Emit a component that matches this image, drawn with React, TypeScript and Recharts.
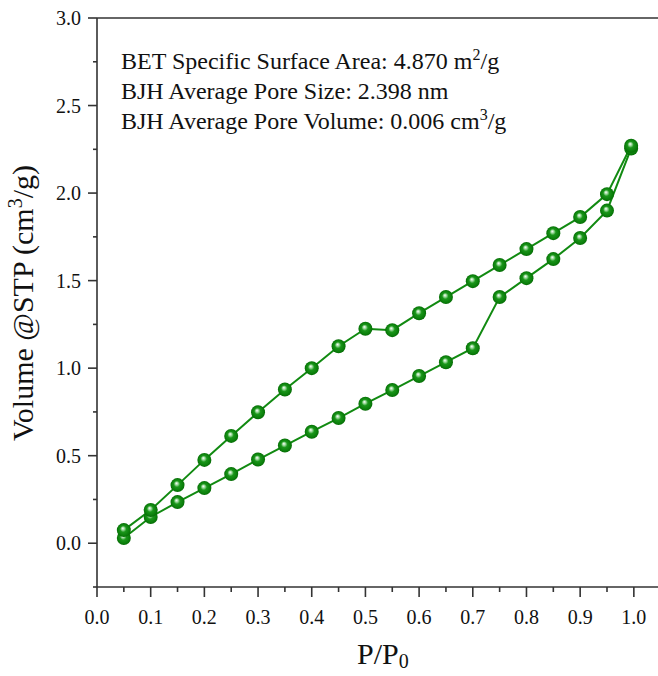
import React from "react";
import { LineChart, Line, XAxis, YAxis, ReferenceLine } from "recharts";

const pAds = [0.05, 0.1, 0.15, 0.2, 0.25, 0.3, 0.35, 0.4, 0.45, 0.5, 0.55, 0.6, 0.65, 0.7, 0.75, 0.8, 0.85, 0.9, 0.95, 0.995];
const vAds = [0.03, 0.15, 0.235, 0.315, 0.395, 0.478, 0.558, 0.637, 0.715, 0.797, 0.875, 0.955, 1.034, 1.114, 1.406, 1.514, 1.623, 1.743, 1.9, 2.255];
const pDes = [0.995, 0.95, 0.9, 0.85, 0.8, 0.75, 0.7, 0.65, 0.6, 0.55, 0.5, 0.45, 0.4, 0.35, 0.3, 0.25, 0.2, 0.15, 0.1, 0.05];
const vDes = [2.27, 1.994, 1.863, 1.771, 1.68, 1.589, 1.497, 1.406, 1.314, 1.217, 1.225, 1.125, 1.0, 0.878, 0.748, 0.613, 0.476, 0.332, 0.19, 0.075];

const xMajor = [0, 0.1, 0.2, 0.3, 0.4, 0.5, 0.6, 0.7, 0.8, 0.9, 1.0];
const xMajorLabels = ["0.0", "0.1", "0.2", "0.3", "0.4", "0.5", "0.6", "0.7", "0.8", "0.9", "1.0"];
const xMinor = [0.05, 0.15, 0.25, 0.35, 0.45, 0.55, 0.65, 0.75, 0.85, 0.95];
const yMajor = [0, 0.5, 1.0, 1.5, 2.0, 2.5, 3.0];
const yMajorLabels = ["0.0", "0.5", "1.0", "1.5", "2.0", "2.5", "3.0"];
const yMinor = [-0.25, 0.25, 0.75, 1.25, 1.75, 2.25, 2.75];

const adsData = pAds.map((p, i) => ({ p, v: vAds[i] }));
const desData = pDes.map((p, i) => ({ p, v: vDes[i] }));
const xTicks = [...xMajor, ...xMinor].sort((a, b) => a - b);
const yTicks = [...yMajor, ...yMinor].sort((a, b) => a - b);

const FONT = "'Liberation Serif', 'Times New Roman', serif";
const AXIS = "#333";
const GREEN = "#118a11";

const majorIndex = (arr: number[], v: number) => arr.findIndex((m) => Math.abs(m - v) < 1e-6);

const XTick = (props: any) => {
  const { x, y, payload } = props;
  const mi = majorIndex(xMajor, payload.value);
  const len = mi >= 0 ? 10 : 5;
  return (
    <g>
      <line x1={x} y1={y} x2={x} y2={y + len} stroke={AXIS} strokeWidth={1.6} />
      {mi >= 0 && (
        <text x={x} y={y + 37} textAnchor="middle" fontFamily={FONT} fontSize={20} fill="#111">
          {xMajorLabels[mi]}
        </text>
      )}
    </g>
  );
};

const YTick = (props: any) => {
  const { x, y, payload } = props;
  const mi = majorIndex(yMajor, payload.value);
  const len = mi >= 0 ? 9 : 4;
  return (
    <g>
      <line x1={x - len} y1={y} x2={x} y2={y} stroke={AXIS} strokeWidth={1.6} />
      {mi >= 0 && (
        <text x={x - 16} y={y + 7} textAnchor="end" fontFamily={FONT} fontSize={20} fill="#111">
          {yMajorLabels[mi]}
        </text>
      )}
    </g>
  );
};

const Ball = (props: any) => {
  const { cx, cy, index } = props;
  if (cx == null || cy == null) return null;
  return <circle key={index} cx={cx} cy={cy} r={7} fill="url(#ballGrad)" stroke="none" />;
};

export default function App() {
  return (
    <div style={{ position: "absolute", left: 0, top: 0, width: 658, height: 676, background: "#fff" }}>
      <LineChart width={658} height={676} margin={{ top: 18, right: 0, bottom: 0, left: 0 }}>
        <defs>
          <radialGradient id="ballGrad" cx="0.5" cy="0.5" r="0.5" fx="0.42" fy="0.36">
            <stop offset="0%" stopColor="#ffffff" />
            <stop offset="22%" stopColor="#9ad89a" />
            <stop offset="45%" stopColor="#1a961a" />
            <stop offset="85%" stopColor="#0a7d0a" />
            <stop offset="100%" stopColor="#066a06" />
          </radialGradient>
        </defs>
        <XAxis
          type="number"
          dataKey="p"
          domain={[0, 1.045]}
          ticks={xTicks}
          allowDataOverflow
          height={89}
          tickSize={0}
          tickMargin={0}
          tickLine={false}
          axisLine={{ stroke: AXIS, strokeWidth: 1.6 }}
          tick={<XTick />}
          interval={0}
        />
        <YAxis
          type="number"
          dataKey="v"
          domain={[-0.25, 3]}
          ticks={yTicks}
          allowDataOverflow
          width={97}
          tickSize={0}
          tickMargin={0}
          tickLine={false}
          axisLine={{ stroke: AXIS, strokeWidth: 1.6 }}
          tick={<YTick />}
          interval={0}
        />
        <ReferenceLine y={3} stroke={AXIS} strokeWidth={1.6} ifOverflow="visible" />
        <Line
          data={adsData}
          dataKey="v"
          stroke={GREEN}
          strokeWidth={2}
          dot={<Ball />}
          isAnimationActive={false}
          type="linear"
        />
        <Line
          data={desData}
          dataKey="v"
          stroke={GREEN}
          strokeWidth={2}
          dot={<Ball />}
          isAnimationActive={false}
          type="linear"
        />
      </LineChart>
      <svg
        width={658}
        height={676}
        style={{ position: "absolute", left: 0, top: 0, pointerEvents: "none" }}
      >
        <g fontFamily={FONT} fontSize={24} fill="#111">
          <text x={121} y={69}>
            BET Specific Surface Area: 4.870 m
            <tspan dy={-9} fontSize={16}>2</tspan>
            <tspan dy={9}>/g</tspan>
          </text>
          <text x={121} y={99}>BJH Average Pore Size: 2.398 nm</text>
          <text x={121} y={129}>
            BJH Average Pore Volume: 0.006 cm
            <tspan dy={-9} fontSize={16}>3</tspan>
            <tspan dy={9}>/g</tspan>
          </text>
        </g>
        <text
          fontFamily={FONT}
          fontSize={30}
          fill="#111"
          textAnchor="middle"
          transform="translate(33,303) rotate(-90)"
        >
          Volume @STP (cm
          <tspan dy={-11} fontSize={20}>3</tspan>
          <tspan dy={11}>/g)</tspan>
        </text>
        <text x={357} y={664} fontFamily={FONT} fontSize={30} fill="#111">
          P/P
          <tspan dy={4} fontSize={20}>0</tspan>
        </text>
      </svg>
    </div>
  );
}
